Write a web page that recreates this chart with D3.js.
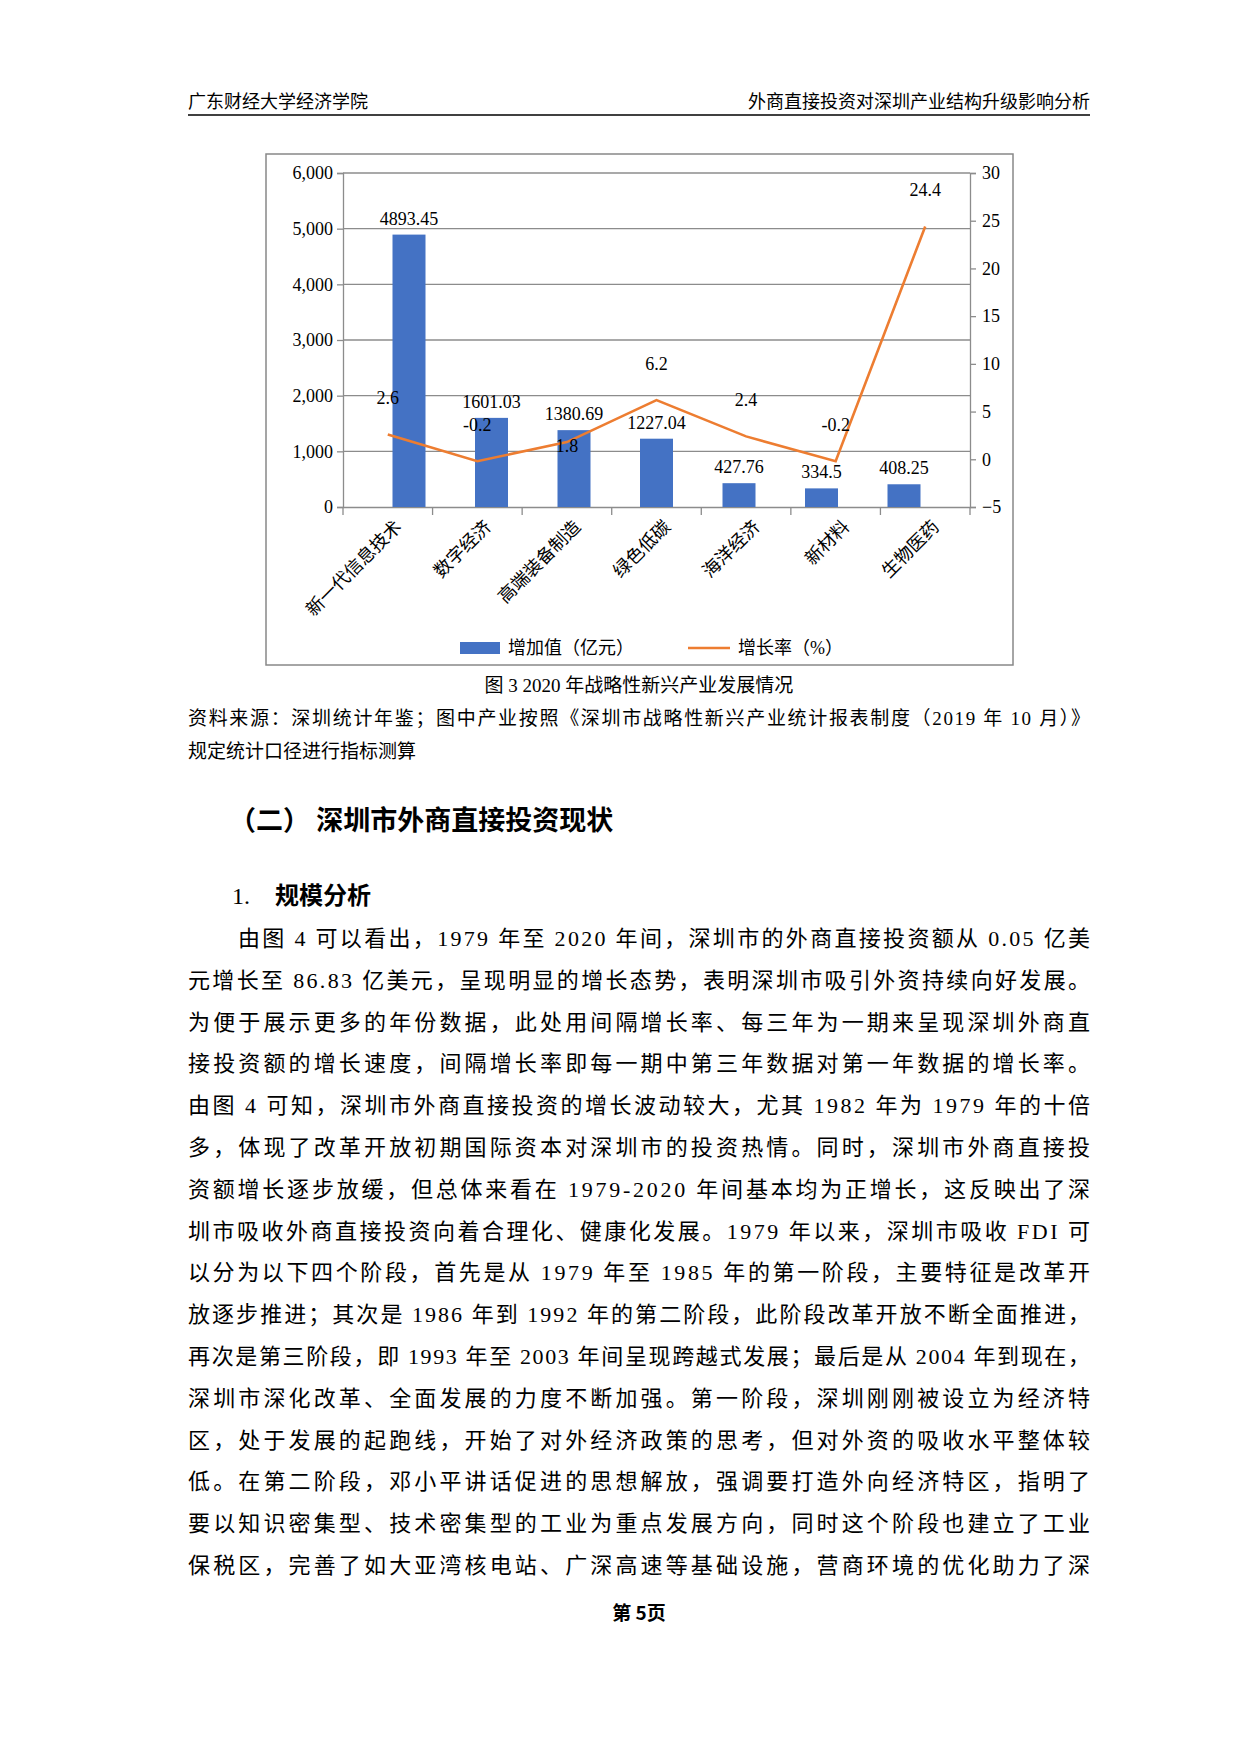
<!DOCTYPE html>
<html><head><meta charset="utf-8">
<script src="https://cdn.jsdelivr.net/npm/d3@7"></script>
<style>body{margin:0;background:#fff}svg{display:block}</style>
</head><body>
<script>
const categories=["新一代信息技术","数字经济","高端装备制造","绿色低碳","海洋经济","新材料","生物医药"];
const addedValue=[4893.45,1601.03,1380.69,1227.04,427.76,334.5,408.25];
const growthRate=[2.6,-0.2,1.8,6.2,2.4,-0.2,24.4];
const rateLabelSide=["above","above","below","above","above","above","above"];
const leftTicks=[0,1000,2000,3000,4000,5000,6000];
const rightTicks=[-5,0,5,10,15,20,25,30];
const paragraph=[
"由图 4 可以看出，1979 年至 2020 年间，深圳市的外商直接投资额从 0.05 亿美",
"元增长至 86.83 亿美元，呈现明显的增长态势，表明深圳市吸引外资持续向好发展。",
"为便于展示更多的年份数据，此处用间隔增长率、每三年为一期来呈现深圳外商直",
"接投资额的增长速度，间隔增长率即每一期中第三年数据对第一年数据的增长率。",
"由图 4 可知，深圳市外商直接投资的增长波动较大，尤其 1982 年为 1979 年的十倍",
"多，体现了改革开放初期国际资本对深圳市的投资热情。同时，深圳市外商直接投",
"资额增长逐步放缓，但总体来看在 1979-2020 年间基本均为正增长，这反映出了深",
"圳市吸收外商直接投资向着合理化、健康化发展。1979 年以来，深圳市吸收 FDI 可",
"以分为以下四个阶段，首先是从 1979 年至 1985 年的第一阶段，主要特征是改革开",
"放逐步推进；其次是 1986 年到 1992 年的第二阶段，此阶段改革开放不断全面推进，",
"再次是第三阶段，即 1993 年至 2003 年间呈现跨越式发展；最后是从 2004 年到现在，",
"深圳市深化改革、全面发展的力度不断加强。第一阶段，深圳刚刚被设立为经济特",
"区，处于发展的起跑线，开始了对外经济政策的思考，但对外资的吸收水平整体较",
"低。在第二阶段，邓小平讲话促进的思想解放，强调要打造外向经济特区，指明了",
"要以知识密集型、技术密集型的工业为重点发展方向，同时这个阶段也建立了工业",
"保税区，完善了如大亚湾核电站、广深高速等基础设施，营商环境的优化助力了深"];

const F="'Liberation Serif','Noto Sans CJK SC',serif";
const FS="'Noto Sans CJK SC',sans-serif";
const svg=d3.select("body").append("svg").attr("width",1240).attr("height",1754);

// header
svg.append("text").attr("x",188).attr("y",108).attr("font-family",FS).attr("font-size",18).text("广东财经大学经济学院");
svg.append("text").attr("x",1090).attr("y",108).attr("text-anchor","end").attr("font-family",FS).attr("font-size",18).text("外商直接投资对深圳产业结构升级影响分析");
svg.append("line").attr("x1",188).attr("x2",1090).attr("y1",115).attr("y2",115).attr("stroke","#000").attr("stroke-width",1.5);

// chart frame
svg.append("rect").attr("x",266).attr("y",154).attr("width",747).attr("height",511).attr("fill","#fff").attr("stroke","#888").attr("stroke-width",1.5);

const L=343,R=970,T=173,B=507;
const x=d3.scaleBand().domain(categories).range([L,R]).padding(0.6);
const xb=d3.scaleBand().domain(categories).range([L,R]);
const y=d3.scaleLinear().domain([0,6000]).range([B,T]);
const y2=d3.scaleLinear().domain([-5,30]).range([B,T]);

// grid
svg.append("g").selectAll("line").data(leftTicks.filter(d=>d>0)).join("line")
 .attr("x1",L).attr("x2",R).attr("y1",d=>y(d)).attr("y2",d=>y(d)).attr("stroke","#8c8c8c").attr("stroke-width",1.3);

const la=svg.append("g").attr("transform",`translate(${L},0)`).call(d3.axisLeft(y).tickValues(leftTicks).tickSize(6).tickPadding(4));
const ra=svg.append("g").attr("transform",`translate(${R},0)`).call(d3.axisRight(y2).tickValues(rightTicks).tickSize(6).tickPadding(6));
const ba=svg.append("g").attr("transform",`translate(0,${B})`).call(d3.axisBottom(xb).tickSize(0).tickFormat(""));
[la,ra,ba].forEach(a=>{a.selectAll("path,line").attr("stroke","#8c8c8c").attr("stroke-width",1.3);a.selectAll("text").attr("font-family",F).attr("font-size",18).attr("fill","#000");});
// category tick marks at band edges
svg.append("g").selectAll("line").data(categories.map(c=>xb(c)).concat([R])).join("line")
 .attr("x1",d=>d).attr("x2",d=>d).attr("y1",B).attr("y2",B+8).attr("stroke","#8c8c8c").attr("stroke-width",1.3);
// category labels rotated
svg.append("g").selectAll("text").data(categories).join("text")
 .attr("transform",d=>`translate(${xb(d)+xb.bandwidth()/2+12},${B+18}) rotate(-45)`)
 .attr("text-anchor","end").attr("dominant-baseline","middle").attr("font-family",F).attr("font-size",18).text(d=>d);

// bars
svg.append("g").selectAll("rect").data(addedValue).join("rect")
 .attr("x",(d,i)=>x(categories[i])).attr("width",x.bandwidth())
 .attr("y",d=>y(d)).attr("height",d=>B-y(d)).attr("fill","#4472C4");
svg.append("g").selectAll("text").data(addedValue).join("text")
 .attr("x",(d,i)=>x(categories[i])+x.bandwidth()/2).attr("y",d=>y(d)-10)
 .attr("text-anchor","middle").attr("font-family",F).attr("font-size",18).text(d=>d);

// line
const line=d3.line().x((d,i)=>xb(categories[i])+xb.bandwidth()/2).y(d=>y2(d));
svg.append("path").datum(growthRate).attr("d",line).attr("fill","none").attr("stroke","#ED7D31").attr("stroke-width",2.6);
svg.append("g").selectAll("text").data(growthRate).join("text")
 .attr("x",(d,i)=>xb(categories[i])+xb.bandwidth()/2).attr("y",(d,i)=>rateLabelSide[i]==="above"?y2(d)-30:y2(d)+10)
 .attr("text-anchor","middle").attr("font-family",F).attr("font-size",18).text(d=>d);

// legend
svg.append("rect").attr("x",460).attr("y",642).attr("width",40).attr("height",12).attr("fill","#4472C4");
svg.append("text").attr("x",508).attr("y",654).attr("font-family",F).attr("font-size",18).text("增加值（亿元）");
svg.append("line").attr("x1",688).attr("x2",730).attr("y1",648).attr("y2",648).attr("stroke","#ED7D31").attr("stroke-width",2.6);
svg.append("text").attr("x",738).attr("y",654).attr("font-family",F).attr("font-size",18).text("增长率（%）");

// caption & source
svg.append("text").attr("x",639).attr("y",692).attr("text-anchor","middle").attr("font-family",F).attr("font-size",19).text("图 3 2020 年战略性新兴产业发展情况");
svg.append("text").attr("x",188).attr("y",725).attr("font-family",F).attr("font-size",19).attr("textLength",902).attr("lengthAdjust","spacing").text("资料来源：深圳统计年鉴；图中产业按照《深圳市战略性新兴产业统计报表制度（2019 年 10 月）》");
svg.append("text").attr("x",188).attr("y",758).attr("font-family",F).attr("font-size",19).text("规定统计口径进行指标测算");

// headings
svg.append("text").attr("x",229).attr("y",830).attr("font-family",FS).attr("font-size",27).attr("font-weight","bold").text("（二）  深圳市外商直接投资现状");
svg.append("text").attr("x",232).attr("y",904).attr("font-family",F).attr("font-size",24).text("1.");
svg.append("text").attr("x",275).attr("y",904).attr("font-family",FS).attr("font-size",24).attr("font-weight","bold").text("规模分析");

// paragraph
svg.append("g").selectAll("text").data(paragraph).join("text")
 .attr("x",(d,i)=>i===0?238:188).attr("y",(d,i)=>946+i*41.8)
 .attr("textLength",(d,i)=>i===0?852:902).attr("lengthAdjust","spacing")
 .attr("font-family",F).attr("font-size",22).text(d=>d);

// footer
svg.append("text").attr("x",639).attr("y",1620).attr("text-anchor","middle").attr("font-family",FS).attr("font-size",19).attr("font-weight","bold").text("第 5页");
</script>
</body></html>
